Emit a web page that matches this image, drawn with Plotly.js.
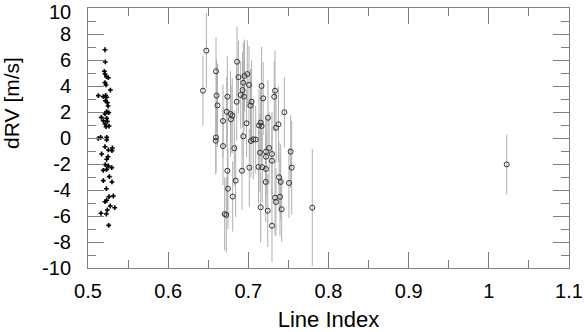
<!DOCTYPE html>
<html>
<head>
<meta charset="utf-8">
<script src="https://cdn.plot.ly/plotly-3.0.1.min.js"></script>
<style>html,body{margin:0;padding:0;background:#fff;}#chart{width:586px;height:332px;}</style>
</head>
<body>
<div id="chart"></div>
<script>
// Group 1: plus markers (no error bars)
const plusX = [0.5212,0.5216,0.5204,0.5212,0.5229,0.5254,0.5212,0.5225,0.5279,0.5221,0.5129,0.5191,0.5233,0.5216,0.5241,0.5250,0.5233,0.5258,0.5212,0.5166,0.5233,0.5191,0.5241,0.5212,0.5262,0.5225,0.5129,0.5158,0.5233,0.5233,0.5212,0.5304,0.5254,0.5299,0.5170,0.5250,0.5233,0.5216,0.5254,0.5296,0.5191,0.5233,0.5266,0.5191,0.5299,0.5229,0.5262,0.5316,0.5212,0.5233,0.5278,0.5333,0.5241,0.5162,0.5229,0.5258];
const plusY = [6.79,5.85,5.13,4.92,4.72,4.64,4.26,4.08,3.69,3.28,3.26,3.18,3.13,2.87,2.72,2.46,2.03,1.95,1.85,1.59,1.51,1.33,1.28,1.08,0.92,0.87,-0.03,0.05,0.05,-0.15,-0.67,-0.77,-0.92,-0.97,-1.23,-1.44,-1.64,-2.05,-2.15,-2.28,-2.49,-2.41,-2.97,-3.28,-3.38,-3.90,-4.51,-4.46,-4.90,-4.79,-5.23,-5.36,-5.54,-5.79,-5.85,-6.72];

// Group 2: open circles with error bars
const circX = [0.6476,0.6434,0.6597,0.6603,0.6615,0.6597,0.6593,0.6684,0.6684,0.6738,0.6730,0.6778,0.6799,0.6784,0.6859,0.6877,0.6855,0.6905,0.6825,0.6738,0.6842,0.6746,0.6805,0.6705,0.6725,0.6921,0.6937,0.6937,0.6952,0.6987,0.7008,0.6929,0.6945,0.7041,0.7027,0.6978,0.7165,0.7185,0.7333,0.7323,0.7245,0.7449,0.7154,0.7166,0.7133,0.7345,0.7376,0.7062,0.7033,0.7092,0.7145,0.7220,0.7220,0.7259,0.7295,0.7295,0.7012,0.7127,0.7174,0.7220,0.7217,0.7154,0.7242,0.7295,0.7333,0.7345,0.7395,0.7416,0.7383,0.7404,0.7507,0.7541,0.7528,0.7798,1.0223];
const circY = [6.72,3.64,5.13,3.26,2.51,0.04,-0.21,-0.62,1.31,3.18,2.02,1.85,1.73,1.44,5.87,4.68,2.79,3.31,-0.79,-2.52,-3.28,-3.90,-4.50,-5.85,-5.92,-2.52,0.13,4.25,4.77,4.92,4.08,3.69,3.18,2.79,2.50,1.13,4.00,3.05,3.64,3.17,1.56,1.98,1.18,0.92,0.96,0.79,1.05,-0.10,-0.23,-0.12,-1.13,-1.05,-1.44,-0.77,-1.23,-1.75,-2.28,-2.22,-2.25,-2.38,-3.38,-5.33,-5.59,-6.75,-4.59,-4.92,-4.52,-5.48,-3.02,-3.38,-3.46,-2.28,-1.05,-5.36,-2.03];
const circErr = [2.9,2.7,2.6,2.8,3.2,2.7,2.6,3.0,2.8,3.1,2.7,3.3,2.9,2.6,2.7,2.8,3.0,2.6,2.9,3.2,2.8,3.1,2.7,2.8,2.9,3.0,2.7,3.1,2.8,2.6,3.0,2.9,2.7,3.2,2.8,2.6,3.0,2.8,3.1,2.7,2.9,2.7,2.6,3.0,2.8,2.7,2.9,3.1,2.8,2.6,3.0,2.7,2.9,2.8,3.2,2.6,3.0,2.8,2.7,2.9,3.1,2.7,2.8,2.8,2.9,2.6,3.0,2.5,2.7,2.9,2.7,3.6,2.8,4.5,2.3];

// Axis tick labels (the top label "10" is drawn as an annotation, nudged inside the canvas as in the reference)
const xTickVals = [0.5,0.6,0.7,0.8,0.9,1.0,1.1];
const xTickText = ['0.5','0.6','0.7','0.8','0.9','1','1.1'];
const yTickVals = [10,8,6,4,2,0,-2,-4,-6,-8,-10];
const yTickText = ['','8','6','4','2','0','-2','-4','-6','-8','-10'];
const yTopLabel = '10';

const FONT = 'Liberation Sans, Arial, Helvetica, sans-serif';
const axisGrey = '#808080';

const traces = [
  {
    type: 'scatter', mode: 'markers', x: circX, y: circY,
    error_y: {type: 'data', array: circErr, visible: true, color: 'rgb(175,175,175)', thickness: 1, width: 0},
    marker: {symbol: 'circle-open', size: 5, color: '#333', line: {width: 1, color: '#333'}},
    hoverinfo: 'x+y', showlegend: false
  },
  {
    type: 'scatter', mode: 'markers', x: plusX, y: plusY,
    marker: {symbol: 'cross', size: 4, color: '#000'},
    hoverinfo: 'x+y', showlegend: false
  }
];

const axisCommon = {
  showline: true, linecolor: axisGrey, linewidth: 1, mirror: 'allticks',
  ticks: 'inside', ticklen: 16, tickcolor: axisGrey, tickwidth: 1,
  showgrid: false, zeroline: false, ticklabeloverflow: 'allow',
  tickfont: {family: FONT, size: 20, color: '#000'}
};

const layout = {
  width: 586, height: 332,
  margin: {l: 88, r: 17, t: 8, b: 64},
  paper_bgcolor: '#fff', plot_bgcolor: '#fff',
  font: {family: FONT, color: '#000'},
  xaxis: Object.assign({}, axisCommon, {
    range: [0.5, 1.1], tickmode: 'array', tickvals: xTickVals, ticktext: xTickText,
    minor: {ticks: 'inside', ticklen: 8, tickcolor: axisGrey, dtick: 0.05, tick0: 0.5, showgrid: false},
    ticklabelstandoff: 5,
    title: {text: 'Line Index', font: {family: FONT, size: 22, color: '#000'}, standoff: 11}
  }),
  yaxis: Object.assign({}, axisCommon, {
    range: [-10, 10], tickmode: 'array', tickvals: yTickVals, ticktext: yTickText,
    minor: {ticks: 'inside', ticklen: 8, tickcolor: axisGrey, dtick: 1, tick0: 0, showgrid: false},
    ticklabelstandoff: 12
  }),
  annotations: [
    {
      text: 'dRV [m/s]', textangle: -90, showarrow: false,
      xref: 'paper', yref: 'paper', x: -0.158, y: 0.635, xanchor: 'center', yanchor: 'middle',
      font: {family: FONT, size: 21, color: '#000'}
    },
    {
      text: yTopLabel, showarrow: false,
      xref: 'paper', yref: 'paper', x: -0.031, y: 0.985, xanchor: 'right', yanchor: 'middle',
      font: {family: FONT, size: 20, color: '#000'}
    }
  ]
};

Plotly.newPlot('chart', traces, layout, {staticPlot: true, displayModeBar: false});
</script>
</body>
</html>
